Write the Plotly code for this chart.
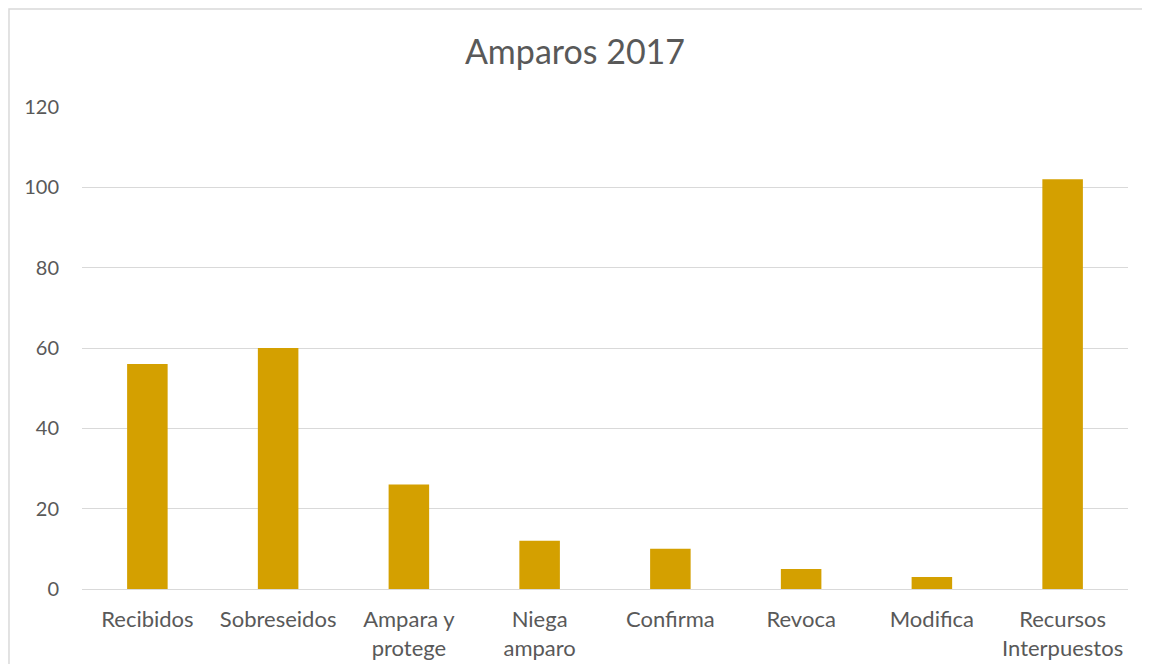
import plotly.graph_objects as go

categories = ['Recibidos', 'Sobreseidos', 'Ampara y<br>protege', 'Niega<br>amparo',
              'Confirma', 'Revoca', 'Modifica', 'Recursos<br>Interpuestos']
values = [56, 60, 26, 12, 10, 5, 3, 102]

_BAR_COLOR = '#D4A000'
_TEXT_COLOR = '#595959'
_FONT = 'Lato, Open Sans, sans-serif'

fig = go.Figure()
fig.add_trace(go.Bar(
    x=categories,
    y=values,
    marker={'color': _BAR_COLOR, 'line': {'width': 0}},
    width=0.31,
))

# page has an 8px body margin, so margins are set relative to the autosized div
fig.update_layout(
    title=dict(text='Amparos 2017', x=0.5, xanchor='center', y=0.933, yanchor='middle',
               font={'size': 34, 'color': _TEXT_COLOR, 'family': _FONT}),
    font={'family': _FONT, 'color': _TEXT_COLOR, 'size': 20},
    plot_bgcolor='white',
    paper_bgcolor='white',
    margin=dict(l=74, r=14, t=99, b=75),
    showlegend=False,
    xaxis=dict(showgrid=False, showline=True, linecolor='#D9D9D9', linewidth=1,
               ticks='', tickfont={'size': 22}, ticklabelstandoff=11, automargin=False),
    yaxis=dict(range=[0, 120], dtick=20, showgrid=True, gridcolor='#D9D9D9',
               zeroline=False, showline=False, ticks='', ticklabelstandoff=22,
               tickfont={'size': 20}, automargin=False),
    shapes=[dict(type='rect', xref='paper', yref='paper',
                 x0=-0.0698, x1=1.05, y0=-0.3, y1=1.2033,
                 line={'color': '#D9D9D9', 'width': 1.5}, layer='below')],
)

fig.write_html('out.html')
